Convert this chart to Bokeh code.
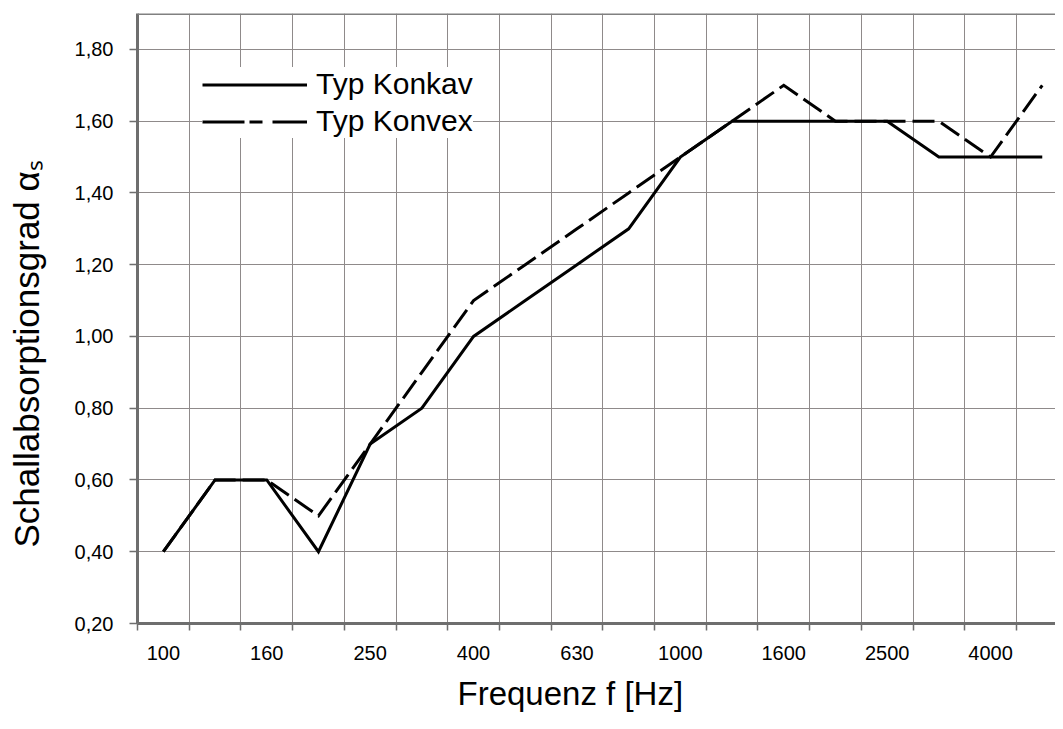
import numpy as np
from bokeh.plotting import figure
from bokeh.models import (Range1d, FixedTicker, Span, Title, Legend, LegendItem,
                          ColumnDataSource, CustomJSTickFormatter, LinearAxis)
from bokeh.embed import file_html
from bokeh.resources import INLINE

# ---- data -------------------------------------------------------------
freqs = ["100", "125", "160", "200", "250", "315", "400", "500", "630",
         "800", "1000", "1250", "1600", "2000", "2500", "3150", "4000", "5000"]
konkav = [0.40, 0.60, 0.60, 0.40, 0.70, 0.80, 1.00, 1.10, 1.20,
          1.30, 1.50, 1.60, 1.60, 1.60, 1.60, 1.50, 1.50, 1.50]
konvex = [0.40, 0.60, 0.60, 0.50, 0.70, 0.90, 1.10, 1.20, 1.30,
          1.40, 1.50, 1.60, 1.70, 1.60, 1.60, 1.60, 1.50, 1.70]
y_ticks = [0.20, 0.40, 0.60, 0.80, 1.00, 1.20, 1.40, 1.60, 1.80]
series_names = ["Typ Konkav", "Typ Konvex"]
x_title = "Frequenz f [Hz]"
y_title = "Schallabsorptionsgrad \u03b1\u209b"

FONT = "Liberation Sans"
n = len(freqs)
x_pos = [i + 0.5 for i in range(n)]          # category centres
bounds = list(range(0, n))                   # category boundaries

p = figure(width=1055, height=713, output_backend="svg", toolbar_location=None,
           x_range=Range1d(0, 17.756), y_range=Range1d(0.2, 1.9),
           min_border_left=137, min_border_right=0, min_border_top=13,
           min_border_bottom=90)
p.background_fill_color = "white"
p.border_fill_color = "white"
p.outline_line_color = None

src = ColumnDataSource(dict(x=x_pos, konkav=konkav, konvex=konvex))
p.line("x", "konvex", source=src, line_color="black", line_width=3,
       line_dash="22 7", line_join="miter")
p.line("x", "konkav", source=src, line_color="black", line_width=3,
       line_join="miter")

# legend proxies (a single NaN point, draws nothing on the plot)
nan_src = ColumnDataSource(dict(x=np.array([np.nan]), y=np.array([np.nan])))
d1 = p.line("x", "y", source=nan_src, line_color="black", line_width=3)
d2 = p.line("x", "y", source=nan_src, line_color="black", line_width=3,
            line_dash="42 5 13 10 35")
legend = Legend(items=[LegendItem(label=series_names[0], renderers=[d1]),
                       LegendItem(label=series_names[1], renderers=[d2])],
                location=(65, 485), padding=10, spacing=3, margin=0,
                glyph_width=105, glyph_height=33, label_height=33,
                label_standoff=9, label_text_font=FONT,
                label_text_font_size="30px", label_text_color="black",
                border_line_color=None, background_fill_color="white",
                background_fill_alpha=1.0)
p.add_layout(legend)

# top border
p.add_layout(Span(location=1.9, dimension="width", line_color="#808080",
                  line_width=3))

# grids
p.xgrid.ticker = FixedTicker(ticks=list(range(1, n)))
p.ygrid.ticker = FixedTicker(ticks=y_ticks[1:])
for g in (p.xgrid, p.ygrid):
    g.grid_line_color = "#8f8a8a"
    g.grid_line_width = 1

# x axis
xa = p.xaxis[0]
xa.ticker = FixedTicker(ticks=x_pos[::2], minor_ticks=bounds)
xa.formatter = CustomJSTickFormatter(args=dict(labels=freqs),
    code="const i = Math.round(tick - 0.5); return labels[i] || '';")
xa.major_tick_out = 0
xa.major_tick_in = 0
xa.minor_tick_out = 7
xa.minor_tick_in = 0
xa.minor_tick_line_color = "#6e6e6e"
xa.minor_tick_line_width = 1.5
xa.axis_line_color = "#6e6e6e"
xa.axis_line_width = 3
xa.major_label_standoff = 15
xa.major_label_text_font = FONT
xa.major_label_text_font_size = "20px"
xa.major_label_text_color = "black"

# y axis
ya = p.yaxis[0]
ya.ticker = FixedTicker(ticks=y_ticks)
ya.formatter = CustomJSTickFormatter(code="return tick.toFixed(2).replace('.', ',');")
ya.major_tick_out = 8
ya.major_tick_in = 0
ya.minor_tick_line_color = None
ya.major_tick_line_color = "#6e6e6e"
ya.major_tick_line_width = 1.5
ya.axis_line_color = "#6e6e6e"
ya.axis_line_width = 3
ya.major_label_standoff = 16
ya.major_label_text_font = FONT
ya.major_label_text_font_size = "20px"
ya.major_label_text_color = "black"


def spacer(size, at):
    """An axis with one white, label-less tick that only reserves space."""
    return LinearAxis(ticker=FixedTicker(ticks=[at]), major_tick_out=size,
                      major_tick_in=0, minor_tick_out=0, minor_tick_in=0,
                      axis_line_color=None, major_tick_line_color="white",
                      major_tick_line_width=1, minor_tick_line_color=None,
                      formatter=CustomJSTickFormatter(code="return '';"),
                      major_label_standoff=0, major_label_text_font_size="1px")


p.add_layout(spacer(26, y_ticks[0]), "left")
p.add_layout(spacer(10, 0), "below")

# axis titles
p.add_layout(Title(text=x_title, align="left", offset=320, standoff=0,
                   vertical_align="bottom",
                   text_font=FONT, text_font_size="33px",
                   text_font_style="normal", text_color="black"), "below")
p.add_layout(Title(text=y_title, align="left", offset=76, standoff=0,
                   vertical_align="bottom",
                   text_font=FONT, text_font_size="35px",
                   text_font_style="normal", text_color="black"), "left")

open("out.html", "w").write(file_html(p, INLINE))
